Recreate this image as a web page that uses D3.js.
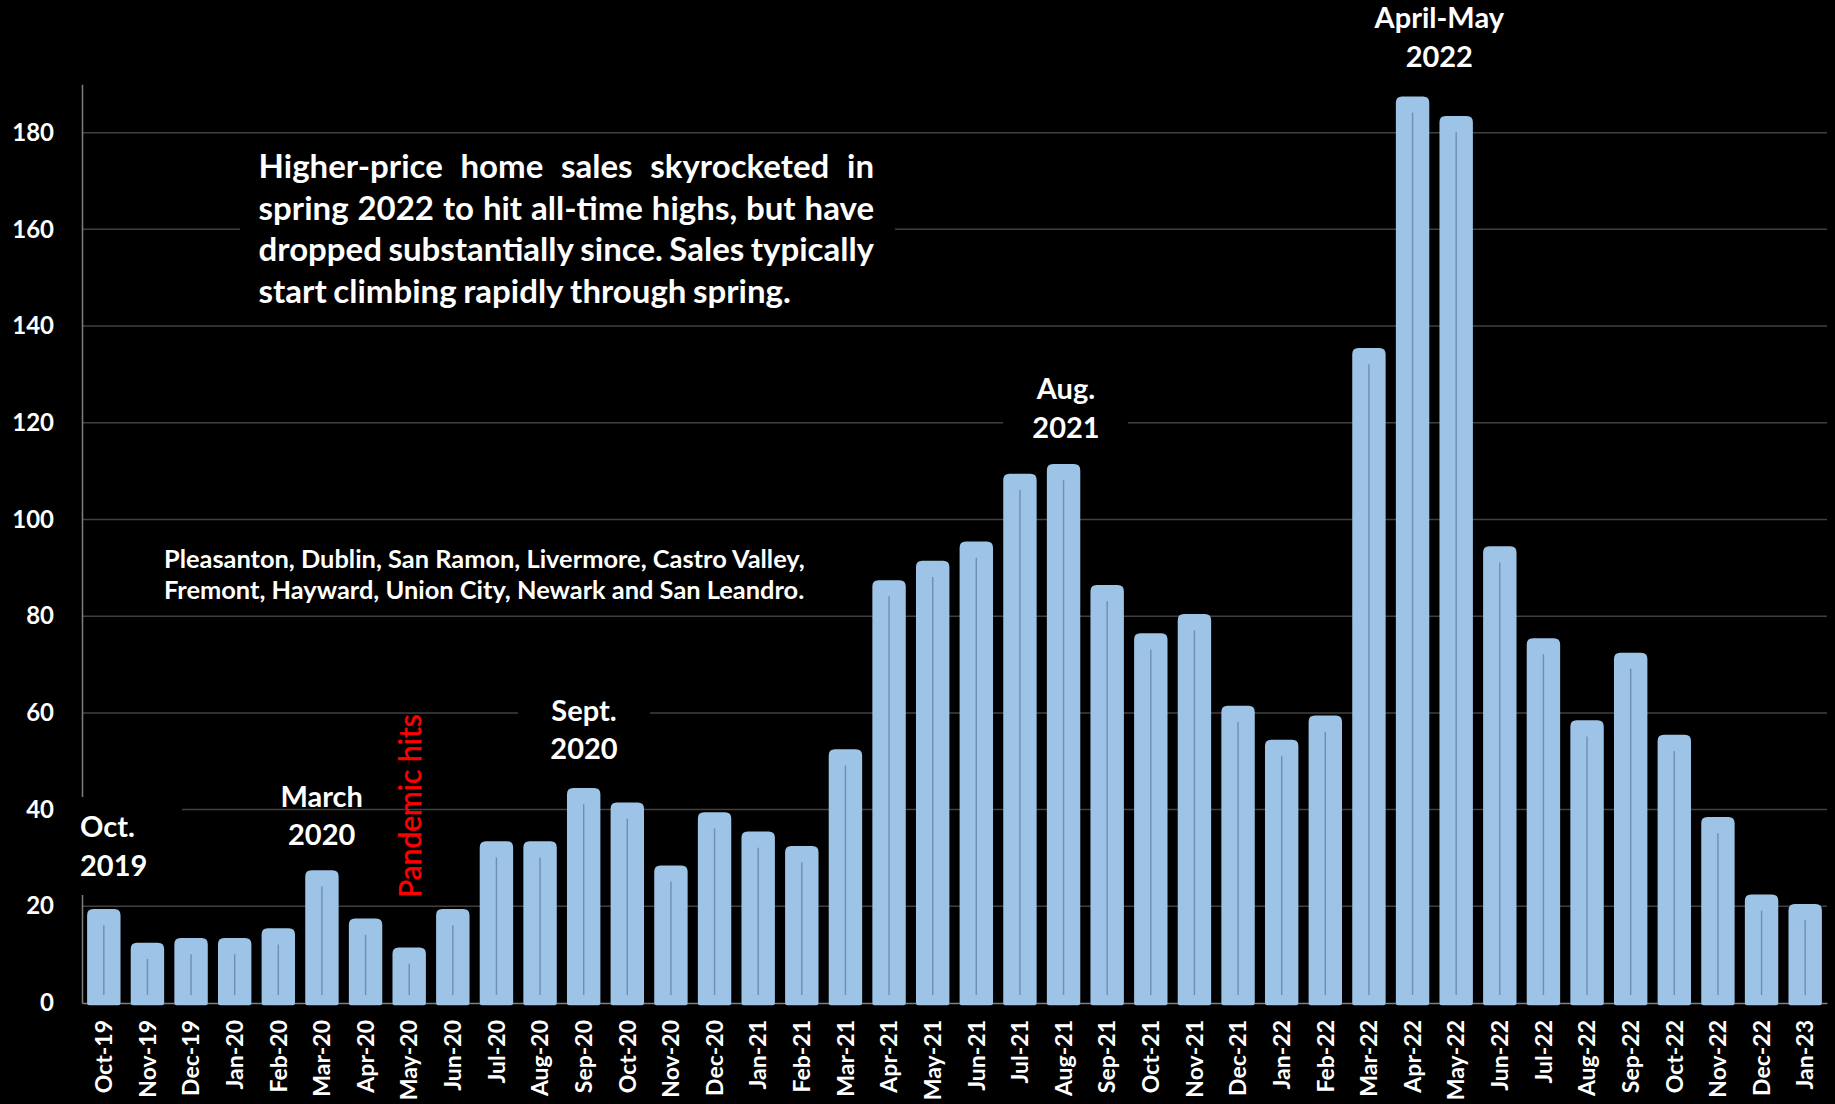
<!DOCTYPE html>
<html>
<head>
<meta charset="utf-8">
<script src="https://cdn.jsdelivr.net/npm/d3@7"></script>
<style>
  html, body { margin: 0; padding: 0; background: #000; overflow: hidden; }
  svg { display: block; }
  text { font-family: Lato, "Open Sans", sans-serif; }
</style>
</head>
<body>
<svg id="chart" width="1835" height="1104"></svg>
<script>
// Monthly higher-price home sales, Tri-Valley / southern Alameda County
const months = [
  "Oct-19", "Nov-19", "Dec-19", "Jan-20", "Feb-20", "Mar-20", "Apr-20", "May-20",
  "Jun-20", "Jul-20", "Aug-20", "Sep-20", "Oct-20", "Nov-20", "Dec-20", "Jan-21",
  "Feb-21", "Mar-21", "Apr-21", "May-21", "Jun-21", "Jul-21", "Aug-21", "Sep-21",
  "Oct-21", "Nov-21", "Dec-21", "Jan-22", "Feb-22", "Mar-22", "Apr-22", "May-22",
  "Jun-22", "Jul-22", "Aug-22", "Sep-22", "Oct-22", "Nov-22", "Dec-22", "Jan-23"
];
const sales = [
  19, 12, 13, 13, 15, 27, 17, 11,
  19, 33, 33, 44, 41, 28, 39, 35,
  32, 52, 87, 91, 95, 109, 111, 86,
  76, 80, 61, 54, 59, 135, 187, 183,
  94, 75, 58, 72, 55, 38, 22, 20
];
const yTicks = [0, 20, 40, 60, 80, 100, 120, 140, 160, 180];

const headline = [
  "Higher-price home sales skyrocketed in",
  "spring 2022 to hit all-time highs, but have",
  "dropped substantially since. Sales typically",
  "start climbing rapidly through spring."
];
const cities = [
  "Pleasanton, Dublin, San Ramon, Livermore, Castro Valley,",
  "Fremont, Hayward, Union City, Newark and San Leandro."
];
const calloutOct19 = ["Oct.", "2019"];
const calloutMar20 = ["March", "2020"];
const calloutSep20 = ["Sept.", "2020"];
const calloutAug21 = ["Aug.", "2021"];
const calloutPeak = ["April-May", "2022"];
const pandemicNote = "Pandemic hits";

// ---- layout ----
const W = 1835, H = 1104;
const plot = { left: 82, right: 1827, top: 84.3, bottom: 1003 };
const barColor = "#9DC3E6";
const gridColor = "#404040";
const axisColor = "#7f7f7f";

const svg = d3.select("#chart");
svg.append("rect").attr("width", W).attr("height", H).attr("fill", "#000");

const x = d3.scaleBand()
  .domain(months)
  .range([plot.left, plot.right])
  .paddingInner(0.335)
  .paddingOuter(0.1675);

const y = d3.scaleLinear()
  .domain([0, 190])
  .range([plot.bottom, plot.top]);

// horizontal gridlines
svg.append("g")
  .selectAll("line")
  .data(yTicks.filter(d => d > 0))
  .join("line")
  .attr("x1", plot.left).attr("x2", plot.right)
  .attr("y1", d => y(d)).attr("y2", d => y(d))
  .attr("stroke", gridColor).attr("stroke-width", 1.5);

// y axis
const yAxis = svg.append("g")
  .attr("transform", `translate(${plot.left},0)`)
  .call(d3.axisLeft(y).tickValues(yTicks).tickSize(0).tickSizeOuter(0).tickPadding(28));
yAxis.select(".domain").attr("stroke", axisColor).attr("stroke-width", 1.5);
yAxis.selectAll("text")
  .attr("fill", "#fff")
  .attr("font-family", "Lato, sans-serif")
  .attr("font-weight", 700)
  .attr("font-size", 24);

// x axis with vertical month labels
const xAxis = svg.append("g")
  .attr("transform", `translate(0,${plot.bottom})`)
  .call(d3.axisBottom(x).tickSize(0).tickSizeOuter(0));
xAxis.select(".domain").attr("stroke", axisColor).attr("stroke-width", 1.5);
xAxis.selectAll("text")
  .attr("fill", "#fff")
  .attr("font-family", "Lato, sans-serif")
  .attr("font-weight", 700)
  .attr("font-size", 23)
  .attr("transform", "rotate(-90)")
  .attr("text-anchor", "end")
  .attr("x", -17)
  .attr("y", 0)
  .attr("dy", "0.36em");

// black panels behind the callouts that interrupt gridlines
const panels = svg.append("g").attr("fill", "#000");
panels.append("rect").attr("x", 70).attr("y", 797).attr("width", 112).attr("height", 98);
panels.append("rect").attr("x", 518).attr("y", 690).attr("width", 132).attr("height", 75);
panels.append("rect").attr("x", 1003).attr("y", 370).attr("width", 125).attr("height", 75);
panels.append("rect").attr("x", 240).attr("y", 146).attr("width", 655).attr("height", 165);

// bars with rounded tops
function barPath(d, i) {
  const x0 = x(months[i]), x1 = x0 + x.bandwidth();
  const top = y(d), bottom = y(0), r = 4;
  return `M${x0},${bottom}V${top + r}Q${x0},${top} ${x0 + r},${top}` +
         `H${x1 - r}Q${x1},${top} ${x1},${top + r}V${bottom}Z`;
}
const bars = svg.append("g");
bars.selectAll("path")
  .data(sales)
  .join("path")
  .attr("d", barPath)
  .attr("fill", barColor)
  .attr("stroke", barColor)
  .attr("stroke-width", 4.4)
  .attr("stroke-linejoin", "round");

bars.selectAll("line")
  .data(sales)
  .join("line")
  .attr("x1", (d, i) => x(months[i]) + x.bandwidth() / 2)
  .attr("x2", (d, i) => x(months[i]) + x.bandwidth() / 2)
  .attr("y1", d => y(d) + 14)
  .attr("y2", y(0) - 8)
  .attr("stroke", "#6f8fae")
  .attr("stroke-width", 1.4);

// callout labels
function callout(lines, cx, baseline, anchor) {
  const t = svg.append("text")
    .attr("fill", "#fff")
    .attr("font-weight", 700)
    .attr("font-size", 29)
    .attr("text-anchor", anchor);
  lines.forEach((s, k) => {
    t.append("tspan").attr("x", cx).attr("y", baseline + k * 38.4).text(s);
  });
}
callout(calloutOct19, 80, 837.3, "start");
callout(calloutMar20, 321.7, 806.5, "middle");
callout(calloutSep20, 584, 720.5, "middle");
callout(calloutAug21, 1066, 399.3, "middle");
callout(calloutPeak, 1439.3, 28.3, "middle");

svg.append("text")
  .attr("transform", "translate(421,806) rotate(-90)")
  .attr("text-anchor", "middle")
  .attr("fill", "#ff0000")
  .attr("font-size", 30)
  .attr("stroke", "#ff0000")
  .attr("stroke-width", 0.5)
  .text(pandemicNote);

// cities list
const cityText = svg.append("text")
  .attr("fill", "#fff")
  .attr("font-weight", 700)
  .attr("font-size", 25.4);
cities.forEach((s, k) => {
  cityText.append("tspan").attr("x", 164).attr("y", 568 + k * 31.3).text(s);
});

// justified headline paragraph
const para = { left: 258.6, right: 874, top: 178.4, lead: 41.4, size: 33 };
const paraG = svg.append("g")
  .attr("fill", "#fff")
  .attr("font-weight", 700)
  .attr("font-size", para.size);
headline.forEach((line, k) => {
  const words = line.split(" ");
  const ty = para.top + k * para.lead;
  const widths = words.map(w => {
    const tmp = paraG.append("text").text(w);
    const wd = tmp.node().getComputedTextLength();
    tmp.remove();
    return wd;
  });
  const isLast = k === headline.length - 1;
  const total = d3.sum(widths);
  const gap = isLast
    ? para.size * 0.2
    : (para.right - para.left - total) / (words.length - 1);
  let cx = para.left;
  words.forEach((w, j) => {
    paraG.append("text").attr("x", cx).attr("y", ty).text(w);
    cx += widths[j] + gap;
  });
});
</script>
</body>
</html>
